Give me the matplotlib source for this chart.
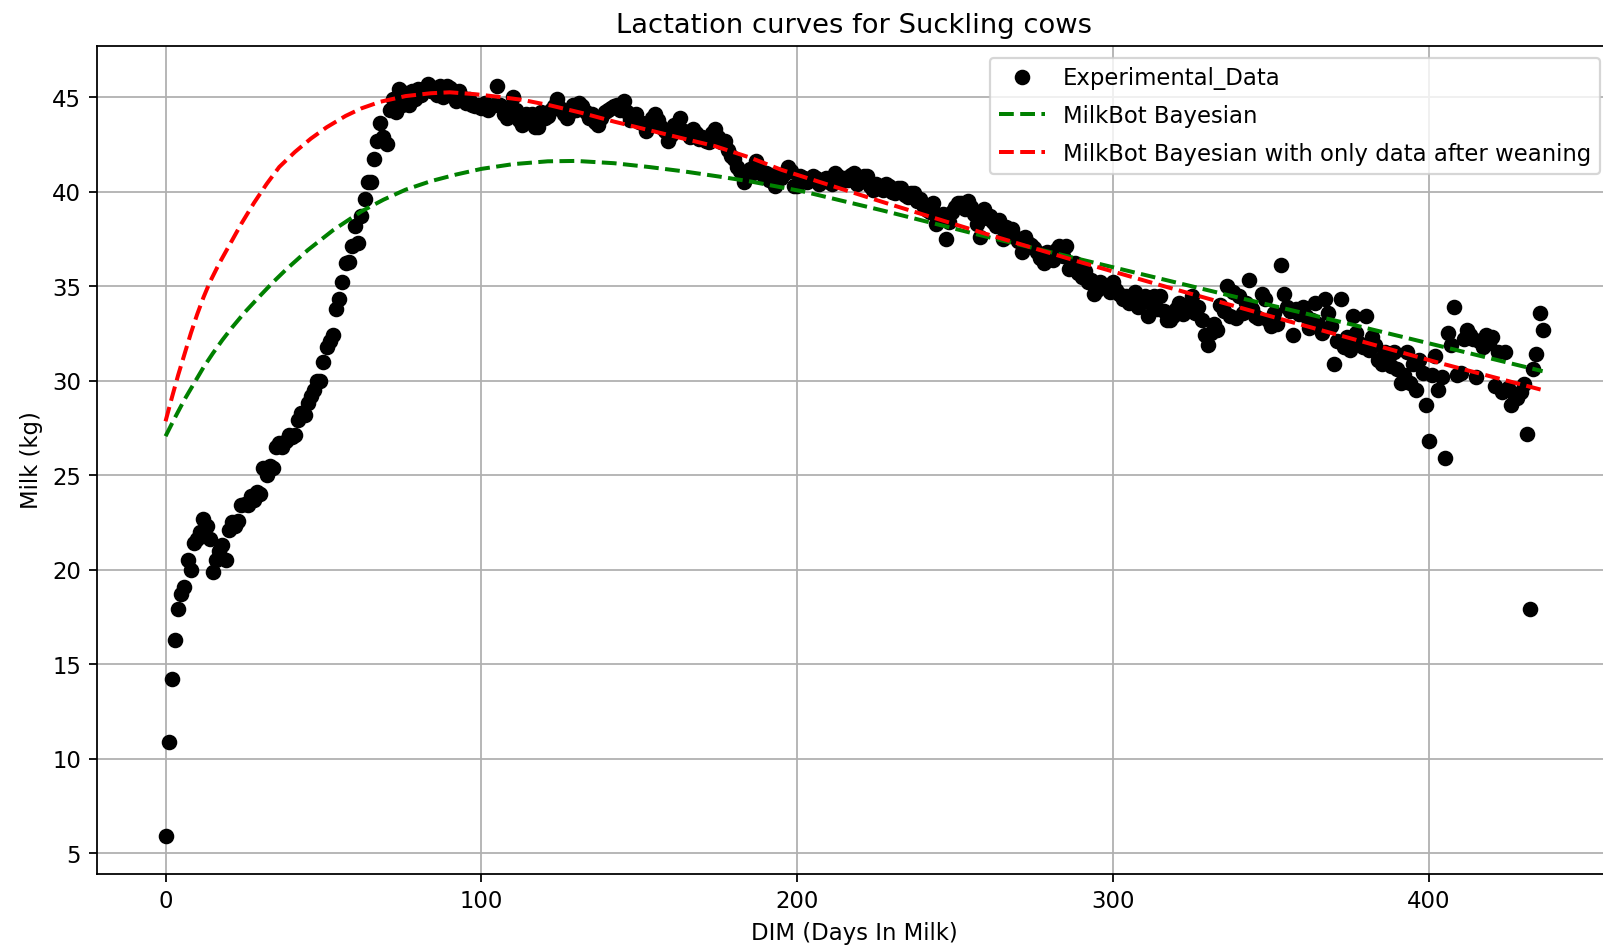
import matplotlib
matplotlib.use("Agg")
import matplotlib.pyplot as plt
import numpy as np

# daily milk yield (kg), DIM 0 .. 436
milk = [
    5.9, 10.9, 14.2, 16.3, 17.9, 18.7, 19.1, 20.5, 20.0, 21.4,
    21.6, 22.0, 22.7, 22.3, 21.6, 19.9, 20.5, 21.0, 21.3, 20.5,
    22.1, 22.5, 22.3, 22.6, 23.4, 23.5, 23.4, 23.9, 23.7, 24.1,
    24.0, 25.4, 25.0, 25.5, 25.4, 26.5, 26.7, 26.5, 26.8, 27.1,
    27.0, 27.1, 27.9, 28.3, 28.2, 28.8, 29.2, 29.5, 30.0, 30.0,
    31.0, 31.8, 32.1, 32.4, 33.8, 34.3, 35.2, 36.2, 36.3, 37.1,
    38.2, 37.3, 38.7, 39.6, 40.5, 40.5, 41.7, 42.7, 43.6, 42.9,
    42.5, 44.3, 44.9, 44.2, 45.4, 44.6, 45.2, 44.6, 45.3, 44.9,
    45.4, 45.1, 45.5, 45.7, 45.3, 45.5, 45.1, 45.6, 45.0, 45.6,
    45.5, 45.2, 44.8, 45.3, 45.0, 44.7, 44.9, 44.6, 44.5, 44.6,
    44.4, 44.7, 44.3, 44.5, 44.6, 45.6, 44.6, 44.1, 43.9, 44.4,
    45.0, 44.3, 43.8, 43.5, 44.1, 43.7, 44.1, 43.4, 43.4, 44.2,
    43.9, 44.0, 44.3, 44.5, 44.9, 44.4, 44.1, 43.9, 44.2, 44.6,
    44.3, 44.7, 44.5, 44.2, 43.9, 44.1, 43.7, 43.5, 43.9, 44.2,
    44.3, 44.4, 44.5, 44.6, 44.3, 44.8, 44.2, 43.8, 43.9, 44.1,
    43.7, 43.6, 43.2, 43.5, 43.9, 44.1, 43.8, 43.4, 43.2, 42.7,
    43.0, 43.5, 43.4, 43.9, 43.2, 43.1, 42.9, 43.3, 43.1, 42.8,
    42.9, 42.7, 42.6, 43.1, 43.3, 42.9, 42.6, 42.7, 42.2, 41.9,
    41.7, 41.3, 41.1, 40.5, 40.8, 41.2, 41.0, 41.6, 41.2, 40.9,
    41.0, 40.6, 40.9, 40.3, 40.8, 40.7, 41.0, 41.3, 41.1, 40.3,
    40.3, 40.8, 40.7, 40.5, 40.6, 40.8, 40.7, 40.4, 40.6, 40.7,
    40.5, 40.4, 41.0, 40.8, 40.5, 40.7, 40.6, 40.9, 41.0, 40.4,
    40.6, 40.8, 40.8, 40.3, 40.1, 40.4, 40.2, 40.1, 40.4, 40.3,
    40.0, 39.9, 40.2, 40.2, 39.8, 39.7, 39.9, 39.9, 39.5, 39.6,
    39.2, 39.0, 38.9, 39.4, 38.3, 38.6, 38.8, 37.5, 38.4, 38.9,
    39.2, 39.4, 39.4, 39.1, 39.5, 39.2, 38.8, 38.3, 37.6, 39.1,
    38.6, 38.7, 38.4, 38.2, 38.5, 37.5, 38.1, 37.8, 38.0, 37.6,
    37.4, 36.8, 37.6, 37.3, 37.2, 37.0, 36.8, 36.5, 36.2, 36.8,
    36.6, 36.4, 36.9, 37.1, 36.6, 37.1, 35.9, 36.0, 36.2, 35.7,
    35.5, 35.8, 35.2, 35.3, 34.6, 34.8, 35.2, 35.0, 34.9, 34.7,
    35.2, 34.8, 34.6, 34.3, 34.5, 34.1, 34.4, 34.7, 33.9, 34.2,
    34.5, 33.4, 34.1, 34.5, 33.8, 34.5, 33.7, 33.2, 33.2, 33.4,
    33.8, 34.1, 33.5, 34.0, 33.8, 34.5, 33.6, 33.9, 33.2, 32.4,
    31.9, 32.5, 33.0, 32.7, 34.0, 33.7, 35.0, 33.4, 34.7, 33.3,
    34.5, 33.6, 34.1, 35.3, 33.8, 33.4, 33.3, 34.6, 34.3, 33.2,
    32.9, 33.6, 33.0, 36.1, 34.6, 33.9, 33.7, 32.4, 33.8, 33.5,
    33.9, 33.4, 32.8, 33.2, 34.1, 33.0, 32.5, 34.3, 33.6, 32.9,
    30.9, 32.1, 34.3, 31.8, 32.3, 31.6, 33.4, 32.5, 32.0, 31.8,
    33.4, 31.6, 32.3, 31.9, 31.1, 30.9, 31.5, 31.2, 30.8, 31.5,
    30.6, 29.9, 30.3, 31.5, 29.9, 30.9, 29.5, 31.1, 30.4, 28.7,
    26.8, 30.3, 31.3, 29.5, 30.2, 25.9, 32.5, 31.9, 33.9, 30.3,
    30.4, 32.2, 32.7, 32.4, 32.2, 30.2, 32.1, 31.8, 32.4, 32.0,
    32.3, 29.7, 31.5, 29.4, 31.5, 29.6, 28.7, 29.3, 29.1, 29.4,
    29.8, 27.2, 17.9, 30.6, 31.4, 33.6, 32.7,
]
dim = np.arange(len(milk))

# MilkBot Bayesian fit (all data)
bayes_dim = [0, 3, 6, 9, 12, 15, 18, 21, 25, 30, 34, 38, 45, 53, 62, 69,
             76, 84, 92, 100, 110, 121, 130, 142, 153, 164, 175, 185, 202,
             227, 259, 290, 316, 337, 376, 403, 436]
bayes_milk = [27.06, 28.05, 29.0, 29.85, 30.7, 31.45, 32.15, 32.8, 33.6, 34.5,
              35.2, 35.85, 36.9, 37.95, 38.95, 39.57, 40.1, 40.55, 40.9, 41.2,
              41.45, 41.6, 41.62, 41.5, 41.3, 41.07, 40.8, 40.54, 40.0,
              39.0, 37.65, 36.4, 35.35, 34.5, 32.95, 31.85, 30.5]

# MilkBot Bayesian fit (only data after weaning)
wean_dim = [0, 2, 4, 6, 8, 10, 12, 14, 17, 20, 24, 28, 32, 36, 41, 46,
            51, 57, 62, 68, 76, 84, 90, 98, 106, 113, 122, 132, 142, 153,
            164, 174, 185, 195, 227, 259, 290, 316, 350, 376, 403, 436]
wean_milk = [27.85, 29.1, 30.3, 31.4, 32.5, 33.5, 34.4, 35.2, 36.2, 37.1,
             38.3, 39.4, 40.4, 41.3, 42.1, 42.8, 43.4, 44.0, 44.4, 44.75,
             45.05, 45.2, 45.25, 45.15, 45.0, 44.85, 44.55, 44.15, 43.7, 43.25,
             42.8, 42.4, 41.8, 41.15, 39.45, 37.8, 36.25, 35.0, 33.4, 32.2,
             30.95, 29.5]

plt.rcParams['font.size'] = 10.25

fig = plt.figure(figsize=(1603.5 / 160, 948.5 / 160), dpi=160)
ax = fig.add_axes([0.0603, 0.0781, 0.9447, 0.8727])

ax.plot(dim, milk, 'o', color='black', label='Experimental_Data')
ax.plot(bayes_dim, bayes_milk, '--', color='green', linewidth=1.8,
        label='MilkBot Bayesian')
ax.plot(wean_dim, wean_milk, '--', color='red', linewidth=1.8,
        label='MilkBot Bayesian with only data after weaning')

ax.set_title('Lactation curves for Suckling cows', fontsize=12.3)
ax.set_xlabel('DIM (Days In Milk)')
ax.set_ylabel('Milk (kg)')
ax.grid(True)
ax.legend(loc='upper right', labelspacing=0.65)

fig.savefig('out.png', dpi=160)
